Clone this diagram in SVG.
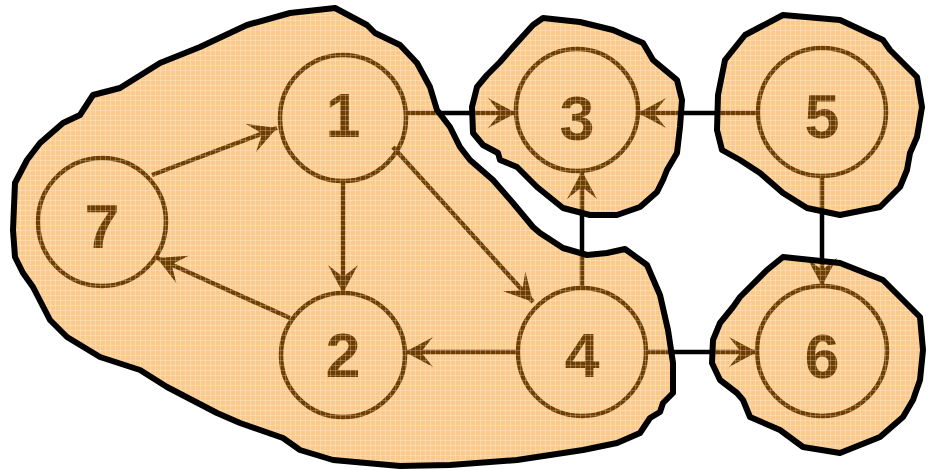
<svg xmlns="http://www.w3.org/2000/svg" width="936" height="470" viewBox="0 0 936 470">
<defs>
<pattern id="hatch" width="5" height="5" patternUnits="userSpaceOnUse">
<rect width="5" height="5" fill="#f28a00" fill-opacity="0.45"/>
<rect width="5" height="1" fill="#ffffff" fill-opacity="0.25"/>
<rect width="1" height="5" fill="#ffffff" fill-opacity="0.25"/>
</pattern>
<marker id="arr" markerUnits="userSpaceOnUse" markerWidth="32" markerHeight="34" viewBox="-29 -17 32 34" refX="0" refY="0" orient="auto">
<path d="M0,0 L-28,-15 L-16,0 L-28,15 Z" fill="#000"/>
</marker>
<path id="b1247" d="M335,8 L367,25 L375,33 L400,45 L417,63 L430,87 L437,110 L450,127 L460,147 L470,160 L493,180 L513,203 L533,227 L540,233 L563,248 L587,255 L607,253 L625,249 L647,265 L660,295 L668,330 L673,363 L673,393 L663,403 L660,412 L650,418 L640,433 L617,443 L583,450 L517,460 L450,465 L400,466 L333,460 L300,450 L283,438 L240,423 L217,413 L167,387 L140,370 L100,357 L67,337 L50,320 L33,287 L23,273 L15,257 L13,230 L15,183 L27,160 L40,143 L63,123 L80,115 L93,95 L120,88 L160,63 L200,47 L247,25 L290,13 Z"/>
<path id="b3" d="M543,18 L580,22 L613,30 L643,43 L653,60 L677,80 L682,100 L680,127 L677,153 L667,170 L663,180 L657,192 L640,207 L617,215 L590,215 L563,208 L537,187 L517,167 L500,160 L498,153 L483,145 L473,133 L472,107 L477,87 L487,75 L500,62 L513,47 L533,25 Z"/>
<path id="b5" d="M783,15 L840,20 L883,40 L890,50 L917,77 L922,107 L917,137 L910,153 L907,170 L900,187 L880,207 L840,215 L807,208 L783,193 L760,173 L740,160 L722,150 L717,130 L718,95 L725,60 L745,35 Z"/>
<path id="b6" d="M783,257 L840,263 L883,280 L893,290 L920,317 L923,350 L920,380 L913,400 L903,417 L880,437 L840,453 L803,447 L780,430 L750,417 L743,400 L737,393 L720,380 L712,363 L713,340 L720,323 L733,307 L740,297 L767,270 Z"/>
<style>
.edge{stroke:#000;stroke-width:4.5;fill:none;marker-end:url(#arr)}
.node circle{fill:none;stroke:#000;stroke-width:4.5}
.node text{font-family:"Liberation Sans",Arial,sans-serif;font-weight:bold;font-size:63px;text-anchor:middle;fill:#000}
.fill{fill:url(#hatch);stroke:none}
.outline{fill:none;stroke:#000;stroke-width:6;stroke-linejoin:round}
</style>
</defs>
<rect width="936" height="470" fill="#fff"/>
<g id="connectors">
<line class="edge" x1="406" y1="113" x2="516" y2="113"/>
<line class="edge" x1="758" y1="113" x2="638" y2="113"/>
<line class="edge" x1="822" y1="177" x2="822" y2="286"/>
<line class="edge" x1="582" y1="288" x2="582" y2="171"/>
<line class="edge" x1="646" y1="352" x2="757" y2="352"/>
<line class="edge" x1="518" y1="352" x2="405" y2="352"/>
<line class="edge" x1="343" y1="181" x2="343" y2="293"/>
<line class="edge" x1="393" y1="147" x2="533" y2="302"/>
<line class="edge" x1="290" y1="318" x2="157" y2="258"/>
<line class="edge" x1="152" y1="175" x2="277" y2="128"/>
</g>
<g id="node1" class="node"><circle cx="343" cy="118" r="63"/><text x="343" y="137">1</text></g>
<g id="node2" class="node"><circle cx="343" cy="355" r="62"/><text x="343" y="377">2</text></g>
<g id="node3" class="node"><circle cx="577" cy="110" r="61"/><text x="577" y="140">3</text></g>
<g id="node4" class="node"><circle cx="582" cy="352" r="64"/><text x="582" y="377">4</text></g>
<g id="node5" class="node"><circle cx="822" cy="112" r="64"/><text x="822" y="138">5</text></g>
<g id="node6" class="node"><circle cx="822" cy="351" r="65"/><text x="822" y="378">6</text></g>
<g id="node7" class="node"><circle cx="102" cy="222" r="64"/><text x="102" y="248">7</text></g>
<g id="components">
<use href="#b1247" class="fill"/>
<use href="#b3" class="fill"/>
<use href="#b5" class="fill"/>
<use href="#b6" class="fill"/>
<use href="#b1247" class="outline"/>
<use href="#b3" class="outline"/>
<use href="#b5" class="outline"/>
<use href="#b6" class="outline"/>
</g>
</svg>
